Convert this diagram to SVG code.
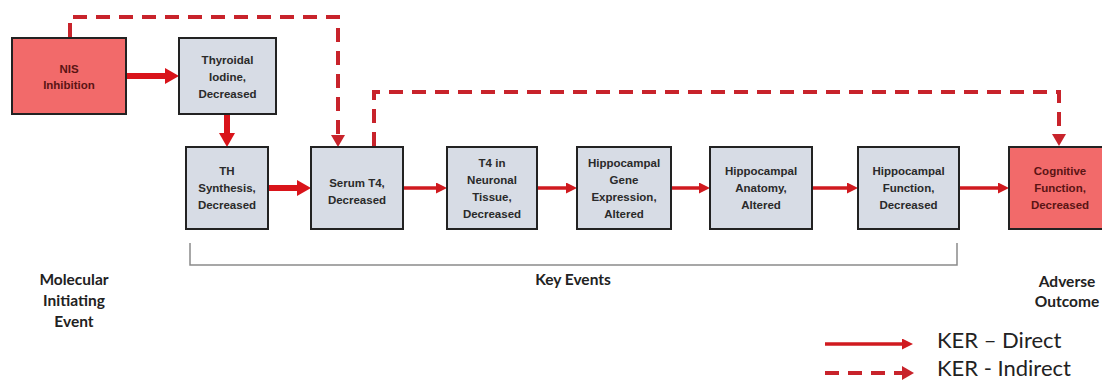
<svg xmlns="http://www.w3.org/2000/svg" width="1102" height="381" viewBox="0 0 1102 381">
  <style>
    .box { fill: #d7dce5; stroke: #222; stroke-width: 2; }
    .mie { fill: #f26a6a; stroke: #222; stroke-width: 2; }
    .bt { font-family: "Liberation Sans", Arial, sans-serif; font-weight: bold; font-size: 11.5px; fill: #2a2a2a; text-anchor: middle; }
    .rt { fill: #5a1414; }
    .lbl { font-family: Lato, "Open Sans", sans-serif; font-weight: bold; font-size: 15.5px; fill: #222; text-anchor: middle; }
    .leg { font-family: Lato, "Open Sans", sans-serif; font-size: 22px; fill: #222; }
    .thick { stroke: #d9141a; stroke-width: 6; fill: none; }
    .thin { stroke: #d01a1f; stroke-width: 3.5; fill: none; }
    .dash { stroke: #c8232b; stroke-width: 4; fill: none; stroke-dasharray: 14 9; }
    .brace { stroke: #8a8a8a; stroke-width: 1.5; fill: none; }
  </style>
  <defs>
    <marker id="hThick" markerUnits="userSpaceOnUse" markerWidth="14" markerHeight="16" refX="0" refY="8" orient="auto">
      <path d="M0,0 L14,8 L0,16 z" fill="#d9141a"/>
    </marker>
    <marker id="hThin" markerUnits="userSpaceOnUse" markerWidth="11" markerHeight="11" refX="0" refY="5.5" orient="auto">
      <path d="M0,0 L11,5.5 L0,11 z" fill="#d01a1f"/>
    </marker>
    <marker id="hDash" markerUnits="userSpaceOnUse" markerWidth="12" markerHeight="14" refX="0" refY="7" orient="auto">
      <path d="M0,0 L12,7 L0,14 z" fill="#c8232b"/>
    </marker>
  </defs>

  <rect width="1102" height="381" fill="#fff"/>

  <!-- connectors -->
  <g id="connectors">
    <path class="thick" d="M127,76 H165" marker-end="url(#hThick)"/>
    <path class="thick" d="M227,115 V133" marker-end="url(#hThick)"/>
    <path class="thick" d="M269,188 H297" marker-end="url(#hThick)"/>
    <path class="thin" d="M403,188 H436" marker-end="url(#hThin)"/>
    <path class="thin" d="M538,188 H566" marker-end="url(#hThin)"/>
    <path class="thin" d="M672,188 H699" marker-end="url(#hThin)"/>
    <path class="thin" d="M813,188 H847" marker-end="url(#hThin)"/>
    <path class="thin" d="M960,188 H998" marker-end="url(#hThin)"/>
    <path class="dash" d="M70,37 V17 H338 V135" marker-end="url(#hDash)"/>
    <path class="dash" d="M374,146 V92 H1059 V134" marker-end="url(#hDash)"/>
    <path class="brace" d="M190,243 V265 H957 V243"/>
  </g>

  <!-- nodes -->
  <g id="nis-inhibition">
    <rect class="mie" x="12" y="38" width="114" height="76"/>
    <text class="bt rt" x="69" y="73">NIS</text>
    <text class="bt rt" x="69" y="89">Inhibition</text>
  </g>
  <g id="thyroidal-iodine">
    <rect class="box" x="179" y="38" width="97" height="76"/>
    <text class="bt" x="227.5" y="64">Thyroidal</text>
    <text class="bt" x="227.5" y="81">Iodine,</text>
    <text class="bt" x="227.5" y="98">Decreased</text>
  </g>
  <g id="th-synthesis">
    <rect class="box" x="186" y="147" width="82" height="82"/>
    <text class="bt" x="227" y="175">TH</text>
    <text class="bt" x="227" y="192">Synthesis,</text>
    <text class="bt" x="227" y="209">Decreased</text>
  </g>
  <g id="serum-t4">
    <rect class="box" x="311" y="147" width="92" height="82"/>
    <text class="bt" x="357" y="187">Serum T4,</text>
    <text class="bt" x="357" y="204">Decreased</text>
  </g>
  <g id="t4-neuronal">
    <rect class="box" x="447" y="147" width="90" height="82"/>
    <text class="bt" x="492" y="167">T4 in</text>
    <text class="bt" x="492" y="184">Neuronal</text>
    <text class="bt" x="492" y="201">Tissue,</text>
    <text class="bt" x="492" y="218">Decreased</text>
  </g>
  <g id="hippocampal-gene">
    <rect class="box" x="577" y="147" width="94" height="82"/>
    <text class="bt" x="624" y="167">Hippocampal</text>
    <text class="bt" x="624" y="184">Gene</text>
    <text class="bt" x="624" y="201">Expression,</text>
    <text class="bt" x="624" y="218">Altered</text>
  </g>
  <g id="hippocampal-anatomy">
    <rect class="box" x="710" y="147" width="102" height="82"/>
    <text class="bt" x="761" y="175">Hippocampal</text>
    <text class="bt" x="761" y="192">Anatomy,</text>
    <text class="bt" x="761" y="209">Altered</text>
  </g>
  <g id="hippocampal-function">
    <rect class="box" x="858" y="147" width="101" height="82"/>
    <text class="bt" x="908.5" y="175">Hippocampal</text>
    <text class="bt" x="908.5" y="192">Function,</text>
    <text class="bt" x="908.5" y="209">Decreased</text>
  </g>
  <g id="cognitive-function">
    <rect class="mie" x="1009" y="147" width="100" height="82"/>
    <text class="bt rt" x="1060" y="175">Cognitive</text>
    <text class="bt rt" x="1060" y="192">Function,</text>
    <text class="bt rt" x="1060" y="209">Decreased</text>
  </g>

  <!-- stage labels -->
  <g id="labels">
    <text class="lbl" x="74" y="285">Molecular</text>
    <text class="lbl" x="74" y="306">Initiating</text>
    <text class="lbl" x="74" y="327">Event</text>
    <text class="lbl" x="573" y="285">Key Events</text>
    <text class="lbl" x="1067" y="287">Adverse</text>
    <text class="lbl" x="1067" y="307">Outcome</text>
  </g>

  <!-- legend -->
  <g id="legend">
    <path class="thin" d="M825,344 H902" marker-end="url(#hThin)"/>
    <path class="dash" d="M825,373 H902" stroke-width="3.5" stroke-dasharray="14 10" marker-end="url(#hDash)"/>
    <text class="leg" x="937" y="348">KER – Direct</text>
    <text class="leg" x="937" y="376">KER - Indirect</text>
  </g>
</svg>
